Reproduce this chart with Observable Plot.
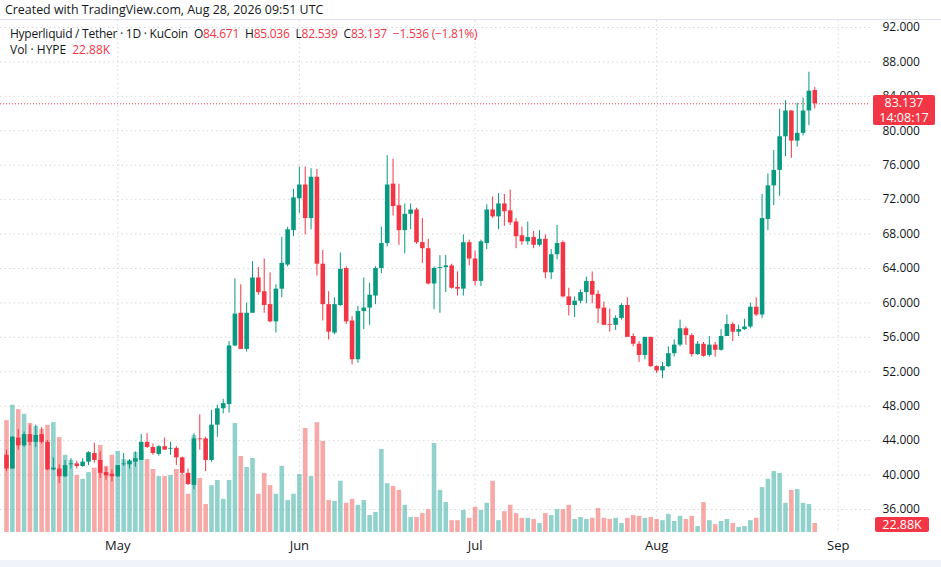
<!DOCTYPE html>
<html><head><meta charset="utf-8">
<script src="https://cdn.jsdelivr.net/npm/d3@7"></script>
<script src="https://cdn.jsdelivr.net/npm/@observablehq/plot@0.6"></script>
<style>
body{margin:0;background:#fff;font-family:"Open Sans",sans-serif;color:#131722;width:941px;height:567px;overflow:hidden}
#hdr{height:19px;font-size:12.4px;line-height:19px;padding-left:5px;border-bottom:1px solid #e0e3eb;white-space:nowrap}
#pane{position:relative;width:941px;height:540px}
#pane svg{position:absolute;left:0;top:0}
#legend{position:absolute;left:10px;top:6px;font-size:12px;line-height:16px;white-space:nowrap}
#legend .l1{letter-spacing:-0.25px}
#legend .g{display:inline-block;width:6px}
.r{color:#f23645}
.box{position:absolute;background:#f23645;color:#fff;font-size:12.5px;line-height:15px;text-align:center;border-radius:2px}
#foot{height:7px;background:#f0f3fa}
</style></head>
<body>
<div id="hdr">Created with TradingView.com, Aug 28, 2026 09:51 UTC</div>
<div id="pane"></div>
<div id="foot"></div>
<script>
const startDate = "2026-04-12";
const openP = [42.3,40.7,44.3,43.4,44.7,43.8,44.7,43.8,40.6,40.7,39.8,41.2,41.3,41.0,41.5,42.5,41.7,40.3,40.1,39.8,41.2,41.2,41.5,41.7,43.8,43.2,42.4,43.3,43.0,43.1,42.0,40.2,38.8,44.2,44.2,41.7,45.8,47.7,48.2,55.0,58.8,54.6,58.8,62.9,61.3,59.8,57.8,61.6,64.4,68.4,72.1,73.7,69.8,74.6,64.5,59.8,56.5,59.7,64.0,57.9,53.4,59.0,59.4,60.8,64.0,66.9,73.8,71.3,68.4,70.3,70.8,67.0,66.3,62.2,64.0,64.1,64.3,61.8,61.6,67.0,65.1,62.5,66.9,70.8,70.0,71.5,70.7,69.4,67.8,67.1,67.6,66.7,67.4,63.5,65.6,67.0,60.7,59.7,60.2,61.2,62.5,61.0,59.4,57.5,57.4,58.2,59.7,56.1,55.2,53.9,56.0,52.6,52.1,52.6,54.1,55.1,57.0,56.2,54.0,55.2,53.9,55.1,54.5,56.1,57.5,56.6,56.9,57.2,59.5,58.6,69.7,73.6,75.4,79.3,82.3,78.8,79.7,82.3,84.671];
const highP = [42.9,44.5,45.3,45.0,45.8,45.8,45.5,44.0,42.0,41.2,41.7,41.9,41.6,41.9,42.7,43.7,42.7,40.9,40.6,41.1,42.5,41.8,42.7,44.7,44.8,43.6,43.4,44.3,43.8,43.3,42.1,40.7,44.8,47.0,44.4,47.5,48.1,48.8,55.5,62.8,62.1,60.0,64.8,64.1,65.1,63.5,62.1,67.6,68.8,73.2,75.8,75.8,75.6,75.5,66.1,61.3,60.6,65.8,64.2,58.4,59.6,62.9,62.3,64.2,68.8,77.1,76.7,73.8,71.5,71.5,71.0,69.8,67.4,64.2,65.5,65.5,64.5,63.6,67.9,67.3,66.0,67.3,71.4,72.3,72.7,72.6,73.1,69.8,68.8,69.4,68.3,68.4,67.9,66.2,69.0,67.2,61.7,60.7,61.5,63.0,63.6,61.4,60.1,59.3,58.5,59.9,60.6,56.4,55.5,56.0,56.0,52.7,53.1,54.9,55.7,58.0,57.2,56.4,55.5,55.4,56.1,55.4,56.9,58.6,57.7,57.4,58.1,60.0,60.6,72.6,75.0,77.7,82.5,83.5,82.3,83.2,83.8,86.8,85.036];
const lowP = [40.4,40.7,42.9,43.2,43.4,43.2,43.6,40.5,40.5,39.0,39.7,40.7,40.7,40.9,41.1,41.4,39.6,39.4,39.2,39.7,41.0,40.7,40.9,41.7,43.1,42.3,42.2,42.9,42.3,41.1,40.0,38.8,38.3,42.9,40.4,41.5,44.4,47.1,47.2,54.9,54.6,54.3,58.8,60.9,58.8,57.7,56.5,60.6,64.2,67.7,70.4,67.9,68.5,63.1,57.9,55.7,56.3,59.6,57.5,52.8,53.0,56.9,57.4,59.8,63.4,66.5,70.1,66.7,65.7,68.5,66.8,64.6,62.1,59.2,58.8,61.2,61.6,60.8,60.8,64.3,62.0,61.9,66.2,69.8,68.5,68.9,69.0,66.3,66.7,66.7,66.3,66.5,62.8,62.7,65.0,60.6,58.5,58.3,59.9,59.9,59.9,57.6,57.4,56.6,56.8,58.0,56.0,54.9,53.1,53.4,52.5,51.8,51.2,52.5,53.7,54.9,55.1,53.7,53.9,53.7,53.7,53.7,54.4,56.1,55.5,56.1,56.8,57.0,58.4,58.2,68.4,71.3,72.4,77.0,76.8,78.1,79.4,80.6,82.539];
const closeP = [40.7,44.4,43.4,44.7,43.8,44.6,43.8,40.6,40.8,39.8,41.1,41.3,41.0,41.5,42.6,41.7,40.2,39.9,39.8,41.1,41.3,41.6,41.9,43.8,43.2,42.5,43.3,42.9,43.1,42.0,40.2,38.9,44.2,44.1,41.7,45.8,47.7,48.3,55.0,58.7,54.6,58.8,62.9,61.2,59.7,57.8,61.6,64.6,68.5,72.2,73.7,69.8,74.6,64.5,59.8,56.6,59.8,63.9,57.8,53.4,59.0,59.4,60.9,64.0,66.9,73.7,71.2,68.4,70.3,70.8,67.0,66.3,62.2,64.0,64.1,64.3,61.7,61.6,67.0,65.1,62.5,67.1,70.8,70.0,71.5,70.6,69.3,67.7,67.1,67.6,66.7,67.4,63.5,65.6,66.9,60.7,59.7,60.2,61.2,62.5,60.9,59.3,57.4,57.4,58.2,59.7,56.0,55.2,53.9,56.0,52.6,52.1,52.6,54.1,55.1,57.0,56.2,54.0,55.2,53.8,55.1,54.5,56.1,57.5,56.6,56.9,57.2,59.5,58.6,69.8,73.6,75.4,79.3,82.3,78.8,79.7,82.3,84.6,83.137];
const volumeK = [284,323,312,300,277,269,262,272,279,241,196,183,145,135,152,163,221,168,196,206,185,183,203,206,185,160,142,142,145,160,147,97,246,137,71,119,132,84,132,277,193,165,188,97,150,119,97,168,81,97,147,264,142,279,231,81,79,130,74,84,69,81,43,51,211,124,117,107,69,38,38,48,58,226,107,76,30,30,56,36,64,56,74,130,30,53,69,48,36,36,33,23,48,43,58,58,69,33,38,33,36,61,36,33,36,23,36,43,41,36,38,33,30,46,28,41,33,41,15,76,30,20,28,33,23,13,15,30,36,114,135,155,150,74,107,109,74,71,22.88];
const priceTicks = [36,40,44,48,52,56,60,64,68,72,76,80,84,88,92];
const monthTicks = ["2026-05-01","2026-06-01","2026-07-01","2026-08-01","2026-09-01"].map(d => new Date(d));
const symbolLabel = "Hyperliquid / Tether · 1D · KuCoin";
const prevClose = 84.673;
const countdown = "14:08:17";

const GREEN = "#089981", RED = "#f23645";
const VGREEN = "rgba(38,166,154,0.5)", VRED = "rgba(239,83,80,0.5)";
const start = new Date(startDate + "T00:00:00Z");
const candles = openP.map((o, i) => ({
  date: d3.utcDay.offset(start, i), open: o, high: highP[i], low: lowP[i], close: closeP[i], vol: volumeK[i],
  up: closeP[i] >= o
}));
const last = candles[candles.length - 1];
const xDomain = [new Date("2026-04-10T23:25:00Z"), new Date("2026-09-06T12:20:00Z")];
const W = 941, H = 540, MR = 71;
const font = '"Open Sans", sans-serif';

const priceCfg = (marks) => Plot.plot({
  width: W, height: H, marginLeft: 0, marginRight: MR, marginTop: 7, marginBottom: 51,
  style: {background: "transparent", fontFamily: font, overflow: "visible"},
  x: {type: "utc", domain: xDomain, axis: null},
  y: {domain: [36, 92], axis: null},
  marks
});

const gridLayer = priceCfg([
  Plot.gridY(priceTicks, {stroke: "#d6d9e0", strokeOpacity: 1, strokeDasharray: "1.5,3"}),
  Plot.axisY(priceTicks, {anchor: "right", tickSize: 0, tickPadding: 12, tickFormat: d3.format(".3f"), fontSize: 12, fill: "#131722"})
]);

const volLayer = Plot.plot({
  width: W, height: H, marginLeft: 0, marginRight: MR, marginTop: 0, marginBottom: 28,
  style: {background: "transparent", fontFamily: font, overflow: "visible"},
  x: {type: "utc", domain: xDomain, axis: null},
  y: {domain: [0, 1300], axis: null},
  marks: [
    Plot.gridX(monthTicks, {stroke: "#d6d9e0", strokeOpacity: 1, strokeDasharray: "1.5,3"}),
    Plot.ruleX(candles, {x: "date", y: "vol", stroke: d => d.up ? VGREEN : VRED, strokeWidth: 4.6}),
    Plot.axisX(monthTicks, {tickSize: 0, tickPadding: 8, tickFormat: d3.utcFormat("%b"), fontSize: 13, fill: "#131722"})
  ]
});

const candleLayer = priceCfg([
  Plot.ruleY([last.close], {stroke: RED, strokeDasharray: "1,2", strokeWidth: 1}),
  Plot.ruleX(candles, {x: "date", y1: "low", y2: "high", stroke: d => d.up ? GREEN : RED, strokeWidth: 1}),
  Plot.ruleX(candles, {x: "date", y1: "open", y2: "close", stroke: d => d.up ? GREEN : RED, strokeWidth: 4.6})
]);

const pane = document.getElementById("pane");
pane.append(gridLayer, volLayer, candleLayer);

const fmt = d3.format(".3f");
const chg = last.close - prevClose;
const minus = s => s.replace("-", "−");
const legend = document.createElement("div");
legend.id = "legend";
legend.innerHTML = `<div class="l1">${symbolLabel}<span class="g"></span>O<span class="r">${fmt(last.open)}</span><span class="g"></span>H<span class="r">${fmt(last.high)}</span><span class="g"></span>L<span class="r">${fmt(last.low)}</span><span class="g"></span>C<span class="r">${fmt(last.close)}</span><span class="g"></span><span class="r">${minus(d3.format("+.3f")(chg))} (${minus(d3.format("+.2f")(chg / prevClose * 100))}%)</span></div>
<div>Vol · HYPE<span class="g"></span><span class="r">${last.vol.toFixed(2)}K</span></div>`;
pane.append(legend);

const py = candleLayer.scale("y").apply(last.close);
const pbox = document.createElement("div");
pbox.className = "box";
pbox.style.left = "873px"; pbox.style.width = "62px";
pbox.style.top = (py - 8) + "px"; pbox.style.height = "30px";
pbox.innerHTML = `${fmt(last.close)}<br>${countdown}`;
pane.append(pbox);

const vy = volLayer.scale("y").apply(last.vol);
const vbox = document.createElement("div");
vbox.className = "box";
vbox.style.left = "875px"; vbox.style.width = "54px";
vbox.style.top = (vy - 6) + "px"; vbox.style.height = "15px";
vbox.textContent = `${last.vol.toFixed(2)}K`;
pane.append(vbox);
</script>
</body></html>
